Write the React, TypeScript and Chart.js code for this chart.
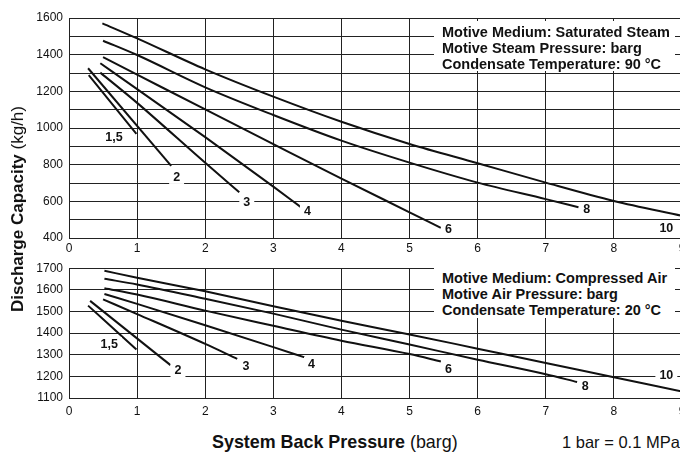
import React, { useEffect, useRef } from "react";
import { Chart, registerables } from "chart.js";

Chart.register(...registerables);

const FONT = '"Liberation Sans", Arial, Helvetica, sans-serif';
const INK = "#111";
const GRID = "#222";

// ---- shared x axis (System Back Pressure, barg)
const pressureTicks = [0, 1, 2, 3, 4, 5, 6, 7, 8, 9];

// ---- top panel: Saturated steam, condensate 90 °C
const steamYTicks = [400, 500, 600, 700, 800, 900, 1000, 1100, 1200, 1300, 1400, 1500, 1600];
const steamYLabelEvery = 200;

const steamX_1_5 = [0.29, 0.99];
const steamY_1_5 = [1289, 968];
const steamX_2 = [0.28, 1.5];
const steamY_2 = [1326, 793];
const steamX_3 = [0.46, 1, 2, 2.5];
const steamY_3 = [1302, 1137, 810, 650];
const steamX_4 = [0.46, 1, 2, 3, 3.41];
const steamY_4 = [1353, 1212, 950, 680, 567];
const steamX_6 = [0.5, 1, 2, 3, 4, 5, 5.46];
const steamY_6 = [1386, 1291, 1101, 912, 724, 540, 455];
const steamX_8 = [0.5, 1, 2, 3, 4, 5, 6, 7, 7.48];
const steamY_8 = [1476, 1398, 1222, 1071, 931, 811, 702, 612, 568];
const steamX_10 = [0.49, 1, 2, 3, 4, 5, 6, 7, 8, 9];
const steamY_10 = [1571, 1489, 1320, 1171, 1034, 913, 808, 702, 602, 521];

const steamCurveNames = ["1,5", "2", "3", "4", "6", "8", "10"];
const steamNameX = [0.66, 1.58, 2.61, 3.5, 5.57, 7.6, 8.77];
const steamNameY = [951, 733, 596, 547, 449, 558, 455];

// ---- bottom panel: Compressed air, condensate 20 °C
const airYTicks = [1100, 1200, 1300, 1400, 1500, 1600, 1700];
const airYLabelEvery = 100;

const airX_1_5 = [0.28, 0.99];
const airY_1_5 = [1527, 1324];
const airX_2 = [0.31, 1.49];
const airY_2 = [1549, 1252];
const airX_3 = [0.5, 1, 2, 2.47];
const airY_3 = [1556, 1488, 1350, 1281];
const airX_4 = [0.52, 1, 2, 3, 3.46];
const airY_4 = [1581, 1535, 1436, 1335, 1288];
const airX_6 = [0.52, 1, 2, 3, 4, 5, 5.46];
const airY_6 = [1607, 1578, 1504, 1434, 1365, 1303, 1269];
const airX_8 = [0.52, 1, 2, 3, 4, 5, 6, 7, 7.46];
const airY_8 = [1651, 1625, 1559, 1490, 1416, 1347, 1277, 1210, 1174];
const airX_10 = [0.52, 1, 2, 3, 4, 5, 6, 7, 8, 9];
const airY_10 = [1688, 1656, 1593, 1524, 1457, 1394, 1328, 1262, 1196, 1130];

const airCurveNames = ["1,5", "2", "3", "4", "6", "8", "10"];
const airNameX = [0.59, 1.6, 2.6, 3.56, 5.57, 7.58, 8.77];
const airNameY = [1350, 1229, 1250, 1259, 1235, 1156, 1206];

type Series = { x: number[]; y: number[] };

const steamSeries: Series[] = [
  { x: steamX_1_5, y: steamY_1_5 },
  { x: steamX_2, y: steamY_2 },
  { x: steamX_3, y: steamY_3 },
  { x: steamX_4, y: steamY_4 },
  { x: steamX_6, y: steamY_6 },
  { x: steamX_8, y: steamY_8 },
  { x: steamX_10, y: steamY_10 },
];

const airSeries: Series[] = [
  { x: airX_1_5, y: airY_1_5 },
  { x: airX_2, y: airY_2 },
  { x: airX_3, y: airY_3 },
  { x: airX_4, y: airY_4 },
  { x: airX_6, y: airY_6 },
  { x: airX_8, y: airY_8 },
  { x: airX_10, y: airY_10 },
];

type PanelProps = {
  series: Series[];
  names: string[];
  nameX: number[];
  nameY: number[];
  yTicks: number[];
  labelEvery: number;
  top: number;
  height: number;
  padTop: number;
  xTickPad: number;
};

function Panel(props: PanelProps) {
  const ref = useRef<HTMLCanvasElement | null>(null);
  useEffect(() => {
    if (!ref.current) return;
    const { series, names, nameX, nameY, yTicks, labelEvery, padTop, xTickPad } = props;
    const curveLabels = {
      id: "curveLabels",
      afterDatasetsDraw(chart: any) {
        const ctx = chart.ctx;
        const xs = chart.scales.x;
        const ys = chart.scales.y;
        ctx.save();
        ctx.font = `bold 12.5px ${FONT}`;
        ctx.textAlign = "center";
        ctx.textBaseline = "middle";
        names.forEach((t, i) => {
          const px = xs.getPixelForValue(nameX[i]);
          const py = ys.getPixelForValue(nameY[i]);
          const w = ctx.measureText(t).width + 8;
          ctx.fillStyle = "#fff";
          ctx.fillRect(px - w / 2, py - 7, w, 14);
          ctx.fillStyle = INK;
          ctx.fillText(t, px, py + 0.5);
        });
        ctx.restore();
      },
    };
    const chart = new Chart(ref.current, {
      type: "line",
      data: {
        datasets: series.map((s) => ({
          data: s.x.map((x, i) => ({ x, y: s.y[i] })),
          borderColor: INK,
          borderWidth: 2,
          pointRadius: 0,
          fill: false,
          cubicInterpolationMode: "monotone" as const,
        })),
      },
      options: {
        animation: false,
        responsive: false,
        layout: { padding: { top: padTop, right: 18, left: 0, bottom: 0 } },
        plugins: { legend: { display: false }, tooltip: { enabled: false } },
        scales: {
          x: {
            type: "linear",
            min: pressureTicks[0],
            max: pressureTicks[pressureTicks.length - 1],
            afterBuildTicks: (s: any) => {
              s.ticks = pressureTicks.map((v) => ({ value: v }));
            },
            afterFit: (s: any) => {
              s.height = 17;
            },
            ticks: {
              padding: xTickPad,
              color: INK,
              maxRotation: 0,
              autoSkip: false,
              font: { family: FONT, size: 12 },
              callback: (v: any) => String(v),
            },
            grid: { color: GRID, lineWidth: 1, drawTicks: false },
            border: { color: GRID, width: 1 },
          },
          y: {
            type: "linear",
            min: yTicks[0],
            max: yTicks[yTicks.length - 1],
            afterBuildTicks: (s: any) => {
              s.ticks = yTicks.map((v) => ({ value: v }));
            },
            afterFit: (s: any) => {
              s.width = 69;
            },
            ticks: {
              padding: 6,
              color: INK,
              autoSkip: false,
              font: { family: FONT, size: 12 },
              callback: (v: any) => (Number(v) % labelEvery === 0 ? String(v) : ""),
            },
            grid: { color: GRID, lineWidth: 1, drawTicks: false },
            border: { color: GRID, width: 1 },
          },
        },
      },
      plugins: [curveLabels],
    } as any);
    return () => chart.destroy();
  }, []);
  return (
    <canvas
      ref={ref}
      width={700}
      height={props.height}
      style={{ position: "absolute", left: 0, top: props.top, width: 700, height: props.height }}
    />
  );
}

const boxStyle: React.CSSProperties = {
  position: "absolute",
  left: 434,
  width: 241,
  background: "#fff",
  boxSizing: "border-box",
  paddingLeft: 8,
  fontFamily: FONT,
  fontWeight: "bold",
  fontSize: 14.5,
  lineHeight: "16px",
  color: INK,
  whiteSpace: "nowrap",
  zIndex: 2,
};

export default function App() {
  return (
    <div
      style={{
        position: "absolute",
        left: 0,
        top: 0,
        width: 680,
        height: 455,
        overflow: "hidden",
        background: "#fff",
        fontFamily: FONT,
        color: INK,
      }}
    >
      <Panel
        series={steamSeries}
        names={steamCurveNames}
        nameX={steamNameX}
        nameY={steamNameY}
        yTicks={steamYTicks}
        labelEvery={steamYLabelEvery}
        top={0}
        height={255}
        padTop={18}
        xTickPad={3}
      />
      <Panel
        series={airSeries}
        names={airCurveNames}
        nameX={airNameX}
        nameY={airNameY}
        yTicks={airYTicks}
        labelEvery={airYLabelEvery}
        top={255}
        height={160}
        padTop={8}
        xTickPad={6}
      />
      <div style={{ ...boxStyle, top: 21, height: 50, paddingTop: 3 }}>
        <div>Motive Medium: Saturated Steam</div>
        <div>Motive Steam Pressure: barg</div>
        <div>Condensate Temperature: 90 °C</div>
      </div>
      <div style={{ ...boxStyle, top: 266, height: 52, paddingTop: 4 }}>
        <div>Motive Medium: Compressed Air</div>
        <div>Motive Air Pressure: barg</div>
        <div>Condensate Temperature: 20 °C</div>
      </div>
      <div
        style={{
          position: "absolute",
          left: 17.5,
          top: 209,
          transform: "translate(-50%, -50%) rotate(-90deg)",
          whiteSpace: "nowrap",
          fontSize: 17,
          lineHeight: "20px",
        }}
      >
        <span style={{ fontWeight: "bold" }}>Discharge Capacity</span> (kg/h)
      </div>
      <div
        style={{
          position: "absolute",
          left: 212,
          top: 442,
          transform: "translateY(-50%)",
          whiteSpace: "nowrap",
          fontSize: 17.9,
          lineHeight: "20px",
        }}
      >
        <span style={{ fontWeight: "bold" }}>System Back Pressure</span> (barg)
      </div>
      <div
        style={{
          position: "absolute",
          left: 562,
          top: 442,
          transform: "translateY(-50%)",
          whiteSpace: "nowrap",
          fontSize: 16.5,
          lineHeight: "20px",
        }}
      >
        1 bar = 0.1 MPa
      </div>
    </div>
  );
}
